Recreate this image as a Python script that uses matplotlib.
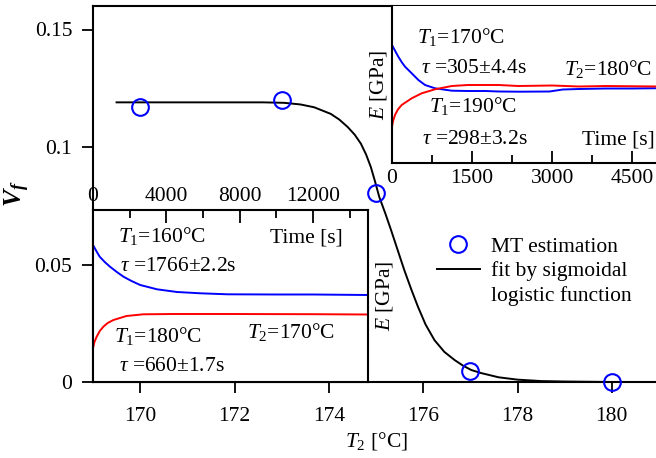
import numpy as np
import matplotlib
matplotlib.use("Agg")
import matplotlib.pyplot as plt
from matplotlib.lines import Line2D
from matplotlib.ticker import MultipleLocator

plt.rcParams['font.family'] = ['Liberation Serif', 'DejaVu Serif']
plt.rcParams['mathtext.fontset'] = 'custom'
plt.rcParams['mathtext.rm'] = 'Liberation Serif'
plt.rcParams['mathtext.it'] = 'Liberation Serif:italic'
plt.rcParams['mathtext.bf'] = 'Liberation Serif:bold'
plt.rcParams['mathtext.bfit'] = 'Liberation Serif:bold:italic'

FS = 15.5

# main data: V_f vs T_2
t2_meas = [170, 173, 175, 177, 180]
vf_meas = [0.117, 0.1198, 0.0803, 0.0047, 0.0]

# fit curve
t2_fit = [169.5, 171, 172, 172.6, 173.05, 173.4, 173.69, 174.04, 174.22, 174.40, 174.55,
          174.68, 174.79, 174.89, 174.98, 175.07, 175.2, 175.32, 175.46, 175.60, 175.75,
          175.89, 176.05, 176.24, 176.45, 176.67, 176.85, 177.02, 177.23, 177.6, 178,
          178.5, 179, 180, 181]
vf_fit = [0.1190, 0.1190, 0.1190, 0.1190, 0.1188, 0.1181, 0.1169, 0.1141, 0.1117, 0.1085,
          0.1052, 0.1014, 0.0968, 0.0915, 0.0853, 0.0787, 0.0716, 0.0646, 0.0561, 0.0476,
          0.0393, 0.0320, 0.0245, 0.0178, 0.0128, 0.0093, 0.0069, 0.0051, 0.0038, 0.0020,
          0.0010, 0.0004, 0.0002, 0.0, 0.0]

# upper inset (T2=180C), arbitrary E units
up_t_blue = [0, 60, 118, 180, 244, 369, 494, 619, 806, 1119, 1425, 1744, 2000, 2400, 2950,
             3200, 3500, 4000, 4500, 5000]
up_e_blue = [1.18, 1.12, 1.063, 1.01, 0.963, 0.897, 0.83, 0.78, 0.747, 0.723, 0.72, 0.72,
             0.715, 0.713, 0.715, 0.735, 0.74, 0.745, 0.745, 0.748]
up_t_red = [0, 20, 56, 110, 181, 369, 556, 806, 1119, 1425, 2000, 2363, 3000, 3500, 4000, 5000]
up_e_red = [0.363, 0.42, 0.48, 0.535, 0.58, 0.647, 0.697, 0.737, 0.77, 0.78, 0.78, 0.77,
            0.775, 0.765, 0.77, 0.765]

# lower inset (T2=170C)
lo_t_blue = [0, 180, 365, 640, 927, 1300, 1662, 2100, 2576, 3490, 4585, 5864, 7326, 10000,
             12000, 15000]
lo_e_blue = [1.37, 1.31, 1.253, 1.20, 1.153, 1.10, 1.053, 1.01, 0.97, 0.927, 0.90, 0.887,
             0.877, 0.875, 0.875, 0.87]
lo_t_red = [0, 80, 200, 370, 565, 800, 1113, 1826, 2740, 4384, 7326, 12000, 15000]
lo_e_red = [0.337, 0.40, 0.453, 0.51, 0.553, 0.59, 0.62, 0.66, 0.677, 0.68, 0.68, 0.678, 0.675]

W, H = 656, 458
fig = plt.figure(figsize=(W / 100, H / 100), dpi=100)


def px_rect(x0, y0, x1, y1):
    return [x0 / W, 1 - y1 / H, (x1 - x0) / W, (y1 - y0) / H]


ax = fig.add_axes(px_rect(93, 6, 659, 382))
ax.plot(t2_fit, vf_fit, color='black', lw=1.4)
ax.plot(t2_meas, vf_meas, 'o', mfc='none', mec='#0000ff', ms=12, mew=1.5, clip_on=False,
        zorder=5)
ax.set_xlim(169, 181)
ax.set_ylim(0, 0.16)
ax.set_xticks([170, 172, 174, 176, 178, 180])
ax.set_yticks([0, 0.05, 0.1, 0.15])
ax.set_yticklabels(['0', '0.05', '0.1', '0.15'])
ax.tick_params(direction='out', length=8, width=1.3, labelsize=FS)
ax.tick_params(axis='x', pad=10)
ax.tick_params(axis='y', pad=7)
ax.spines['right'].set_visible(False)
for s in ['left', 'bottom', 'top']:
    ax.spines[s].set_linewidth(1.5)
ax.set_xlabel(r'$T_2$ [°C]', fontsize=FS, labelpad=3)
ax.set_ylabel(r'$\mathbfit{V_f}$', fontsize=FS + 3)
ax.yaxis.set_label_coords(-0.108, 0.5)

# legend
h_meas = Line2D([], [], marker='o', mfc='none', mec='#0000ff', ms=12, mew=1.5, ls='none')
h_fit = Line2D([], [], color='black', lw=1.4)
h_none = Line2D([], [], ls='none')
fig.legend([h_meas, h_fit, h_none], ['MT estimation', 'fit by sigmoidal', 'logistic function'],
           loc='upper left', bbox_to_anchor=(426 / W, 1 - 226 / H), frameon=False,
           fontsize=FS, handlelength=2.0, handletextpad=0.5, labelspacing=0.2, borderpad=0)

# upper inset
ax1 = fig.add_axes(px_rect(392, 6, 659, 163))
ax1.plot(up_t_blue, up_e_blue, color='#0000ff', lw=1.4)
ax1.plot(up_t_red, up_e_red, color='#ff0000', lw=1.4)
ax1.set_xlim(0, 5000)
ax1.set_ylim(0, 1.57)
ax1.set_yticks([])
ax1.xaxis.set_major_locator(MultipleLocator(1500))
ax1.xaxis.set_minor_locator(MultipleLocator(750))
ax1.tick_params(axis='x', which='major', direction='in', length=9, width=1.3, labelsize=FS, pad=4)
ax1.tick_params(axis='x', which='minor', direction='in', length=6, width=1.3)
ax1.spines['top'].set_visible(False)
ax1.spines['right'].set_visible(False)
for s in ['left', 'bottom']:
    ax1.spines[s].set_linewidth(1.5)
ax1.set_ylabel(r'$E$ [GPa]', fontsize=FS, labelpad=2)
ax1.text(0.095, 0.764, r'$T_1$=170°C', transform=ax1.transAxes, fontsize=FS, va='baseline')
ax1.text(0.109, 0.571, r'$\tau$ =305±4.4s', transform=ax1.transAxes, fontsize=FS, va='baseline')
ax1.text(0.643, 0.56, r'$T_2$=180°C', transform=ax1.transAxes, fontsize=FS, va='baseline')
ax1.text(0.14, 0.327, r'$T_1$=190°C', transform=ax1.transAxes, fontsize=FS, va='baseline')
ax1.text(0.112, 0.121, r'$\tau$ =298±3.2s', transform=ax1.transAxes, fontsize=FS, va='baseline')
ax1.text(0.985, 0.115, 'Time [s]', transform=ax1.transAxes, fontsize=FS, va='baseline', ha='right')

# lower inset
ax2 = fig.add_axes(px_rect(93, 210, 368, 382))
ax2.plot(lo_t_blue, lo_e_blue, color='#0000ff', lw=1.4)
ax2.plot(lo_t_red, lo_e_red, color='#ff0000', lw=1.4)
ax2.set_xlim(0, 15000)
ax2.set_ylim(0, 1.72)
ax2.set_yticks([])
ax2.xaxis.set_major_locator(MultipleLocator(4000))
ax2.xaxis.set_minor_locator(MultipleLocator(2000))
ax2.xaxis.tick_top()
ax2.tick_params(axis='x', which='major', direction='in', length=9, width=1.3, labelsize=FS, pad=3)
ax2.tick_params(axis='x', which='minor', direction='in', length=6, width=1.3)
for s in ax2.spines.values():
    s.set_linewidth(1.5)
ax2.yaxis.set_label_position('right')
ax2.set_ylabel(r'$E$ [GPa]', fontsize=FS, labelpad=4)
ax2.text(0.092, 0.816, r'$T_1$=160°C', transform=ax2.transAxes, fontsize=FS, va='baseline')
ax2.text(0.098, 0.647, r'$\tau$ =1766±2.2s', transform=ax2.transAxes, fontsize=FS, va='baseline')
ax2.text(0.91, 0.81, 'Time [s]', transform=ax2.transAxes, fontsize=FS, va='baseline', ha='right')
ax2.text(0.078, 0.234, r'$T_1$=180°C', transform=ax2.transAxes, fontsize=FS, va='baseline')
ax2.text(0.559, 0.254, r'$T_2$=170°C', transform=ax2.transAxes, fontsize=FS, va='baseline')
ax2.text(0.095, 0.066, r'$\tau$ =660±1.7s', transform=ax2.transAxes, fontsize=FS, va='baseline')

fig.savefig('out.png', dpi=100)
